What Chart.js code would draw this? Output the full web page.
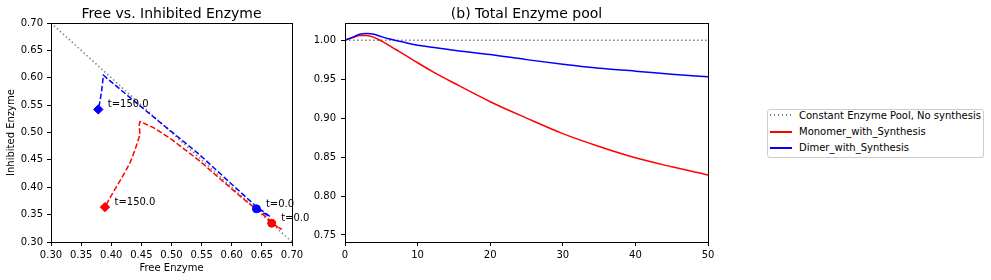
<!DOCTYPE html>
<html>
<head>
<meta charset="utf-8">
<script src="https://cdn.jsdelivr.net/npm/chart.js@4.4.1/dist/chart.umd.min.js"></script>
<style>
  html, body { margin: 0; padding: 0; background: #fff; }
  body { width: 991px; height: 280px; position: relative; overflow: hidden; font-family: "DejaVu Sans", sans-serif; }
  #phase { position: absolute; left: 0; top: 0; z-index: 2; }
  #pool { position: absolute; left: 300px; top: 0; z-index: 1; }
  #legend { position: absolute; left: 767px; top: 109px; width: 217px; height: 49px; box-sizing: border-box;
            border: 1px solid #ccc; border-radius: 3px; font-size: 10px; color: #000; }
  .txt { position: absolute; left: 31px; height: 12px; line-height: 12px; white-space: nowrap; }
  .hnd { position: absolute; left: 2px; width: 22px; height: 2px; }
</style>
</head>
<body>
<canvas id="phase" width="320" height="280"></canvas>
<canvas id="pool" width="420" height="280"></canvas>
<div id="legend"></div>
<script>
// (a) free vs inhibited enzyme, trajectories from t=0 to t=150
const diagFree = [0.30, 0.70];
const diagInhib = [0.70, 0.30];
const dimerFree  = [0.641, 0.652, 0.6635, 0.652, 0.641, 0.600, 0.5445, 0.500, 0.450, 0.410, 0.395, 0.387, 0.386, 0.384, 0.3815, 0.3785];
const dimerInhib = [0.3606, 0.3535, 0.3464, 0.356, 0.3645, 0.4055, 0.4615, 0.5015, 0.5465, 0.5833, 0.597, 0.6046, 0.595, 0.5758, 0.558, 0.5422];
const monoFree  = [0.6663, 0.675, 0.683, 0.675, 0.660, 0.620, 0.580, 0.5473, 0.500, 0.470, 0.4532, 0.450, 0.4475, 0.4465, 0.447, 0.4477, 0.440, 0.4311, 0.420, 0.409, 0.398, 0.3896];
const monoInhib = [0.3343, 0.3285, 0.3233, 0.328, 0.343, 0.378, 0.416, 0.4475, 0.4875, 0.509, 0.5175, 0.5205, 0.5195, 0.514, 0.505, 0.4963, 0.470, 0.4444, 0.422, 0.4015, 0.381, 0.3637];
const phaseTicks = [0.30, 0.35, 0.40, 0.45, 0.50, 0.55, 0.60, 0.65, 0.70];
const startLabel = 't=0.0';
const endLabel = 't=150.0';

// (b) total enzyme pool
const constTime = [0, 50];
const constPool = [1.0, 1.0];
const poolTime  = [0, 1, 2, 3, 4, 5, 6, 7, 8, 10, 12, 15, 20, 25, 30, 35, 40, 45, 50];
const poolMono  = [1.000, 1.003, 1.0058, 1.006, 1.0035, 0.999, 0.9937, 0.988, 0.9825, 0.971, 0.960, 0.945, 0.921, 0.900, 0.880, 0.8635, 0.849, 0.8375, 0.827];
const poolDimer = [1.000, 1.0035, 1.0075, 1.0085, 1.0075, 1.0045, 1.0018, 0.9995, 0.9975, 0.9935, 0.991, 0.987, 0.9815, 0.975, 0.969, 0.9638, 0.9602, 0.9562, 0.953];
const poolXTicks = [0, 10, 20, 30, 40, 50];
const poolYTicks = [0.75, 0.80, 0.85, 0.90, 0.95, 1.00];

const seriesNames  = ['Constant Enzyme Pool, No synthesis', 'Monomer_with_Synthesis', 'Dimer_with_Synthesis'];
const seriesColors = ['gray', 'red', 'blue'];

Chart.defaults.font.family = '"DejaVu Sans", sans-serif';
Chart.defaults.font.size = 10;
Chart.defaults.color = '#000';

const pts = (xs, ys) => xs.map((x, i) => ({ x: x, y: ys[i] }));

// linear axis in matplotlib look: outward ticks, fixed box size
const axis = (o) => ({
  type: 'linear', min: o.min, max: o.max,
  afterBuildTicks: s => { s.ticks = o.ticks.map(v => ({ value: v })); },
  afterFit: s => { if (o.width) s.width = o.width; if (o.height) s.height = o.height; },
  border: { display: false },
  grid: { drawOnChartArea: false, drawTicks: true, tickLength: 4, color: '#000', lineWidth: 1 },
  ticks: { color: '#000', padding: o.pad, autoSkip: false, maxRotation: 0, callback: v => v.toFixed(o.dp) },
  title: o.title ? { display: true, text: o.title, color: '#000', padding: o.titlePad } : { display: false }
});

// box round the plot area
const frame = {
  id: 'frame',
  afterDraw(chart) {
    const { ctx, chartArea: a } = chart;
    ctx.save();
    ctx.strokeStyle = '#000';
    ctx.lineWidth = 1;
    ctx.strokeRect(Math.round(a.left) + 0.5, Math.round(a.top) + 0.5, Math.round(a.right - a.left), Math.round(a.bottom - a.top));
    ctx.restore();
  }
};

// title centred over the plot area (not the canvas)
const panelTitle = (text) => ({
  id: 'panelTitle',
  afterDraw(chart) {
    const { ctx, chartArea: a } = chart;
    ctx.save();
    ctx.font = '14px "DejaVu Sans"';
    ctx.fillStyle = '#000';
    ctx.textAlign = 'center';
    ctx.textBaseline = 'alphabetic';
    ctx.fillText(text, (a.left + a.right) / 2, 17.7);
    ctx.restore();
  }
});

// t=... labels next to the start / end markers
const tLabels = {
  id: 'tLabels',
  afterDraw(chart) {
    const { ctx, scales: { x, y } } = chart;
    ctx.save();
    ctx.font = '10px "DejaVu Sans"';
    ctx.fillStyle = '#000';
    ctx.textAlign = 'left';
    ctx.textBaseline = 'alphabetic';
    [[dimerFree, dimerInhib], [monoFree, monoInhib]].forEach(([fx, fy]) => {
      const n = fx.length - 1;
      ctx.fillText(startLabel, x.getPixelForValue(fx[0]) + 9.5, y.getPixelForValue(fy[0]) - 2);
      ctx.fillText(endLabel, x.getPixelForValue(fx[n]) + 9.5, y.getPixelForValue(fy[n]) - 2);
    });
    ctx.restore();
  }
};

const dashed = (xs, ys, color, order) => ({
  data: pts(xs, ys), showLine: true, borderColor: color, borderWidth: 1.5,
  borderDash: [5.5, 2.4], pointRadius: 0, tension: 0, order: order
});
const endMarkers = (xs, ys, color) => ({
  data: [{ x: xs[0], y: ys[0] }, { x: xs[xs.length - 1], y: ys[ys.length - 1] }],
  showLine: false, pointStyle: ['circle', 'rectRot'], pointRadius: [4, 4.7],
  backgroundColor: color, borderColor: color, borderWidth: 1, order: 0
});

new Chart(document.getElementById('phase'), {
  type: 'scatter',
  data: {
    datasets: [
      { data: pts(diagFree, diagInhib), showLine: true, borderColor: 'gray', borderWidth: 1.5,
        borderDash: [1.5, 2.5], pointRadius: 0, order: 5 },
      dashed(dimerFree, dimerInhib, 'blue', 4),
      dashed(monoFree, monoInhib, 'red', 3),
      endMarkers(dimerFree, dimerInhib, 'blue'),
      endMarkers(monoFree, monoInhib, 'red')
    ]
  },
  options: {
    responsive: false, animation: false, devicePixelRatio: 1,
    layout: { padding: { top: 23, right: 28, left: 0, bottom: 0 } },
    plugins: { legend: { display: false }, tooltip: { enabled: false } },
    scales: {
      x: axis({ min: 0.30, max: 0.70, ticks: phaseTicks, dp: 2, pad: 3, height: 38,
                title: 'Free Enzyme', titlePad: { top: 0, bottom: 6 } }),
      y: axis({ min: 0.30, max: 0.70, ticks: phaseTicks, dp: 2, pad: 4, width: 51,
                title: 'Inhibited Enzyme', titlePad: { top: 5, bottom: 0 } })
    }
  },
  plugins: [frame, panelTitle('Free vs. Inhibited Enzyme'), tLabels]
});

const solid = (xs, ys, color, order) => ({
  label: seriesNames[seriesColors.indexOf(color)],
  data: pts(xs, ys), showLine: true, borderColor: color, borderWidth: 1.5,
  pointRadius: 0, cubicInterpolationMode: 'monotone', order: order
});

const poolChart = new Chart(document.getElementById('pool'), {
  type: 'scatter',
  data: {
    datasets: [
      { label: seriesNames[0], data: pts(constTime, constPool), showLine: true, borderColor: seriesColors[0],
        borderWidth: 1.5, borderDash: [1.5, 2.5], pointRadius: 0, order: 3 },
      solid(poolTime, poolMono, seriesColors[1], 2),
      solid(poolTime, poolDimer, seriesColors[2], 1)
    ]
  },
  options: {
    responsive: false, animation: false, devicePixelRatio: 1,
    layout: { padding: { top: 23, right: 12, left: 0, bottom: 0 } },
    plugins: { legend: { display: false }, tooltip: { enabled: false } },
    scales: {
      x: axis({ min: 0, max: 50, ticks: poolXTicks, dp: 0, pad: 3, height: 38 }),
      y: axis({ min: 0.741, max: 1.022, ticks: poolYTicks, dp: 2, pad: 5, width: 45 })
    }
  },
  plugins: [frame, panelTitle('(b) Total Enzyme pool')]
});

// legend box, built from the series names and colours
const textTops = [-0.5, 15.9, 32.3];
const handleTops = [4, 21, 37];
const legendBox = document.getElementById('legend');
seriesNames.forEach((name, i) => {
  const hnd = document.createElement('span');
  hnd.className = 'hnd';
  hnd.style.top = handleTops[i] + 'px';
  hnd.style.background = i === 0
    ? 'repeating-linear-gradient(to right, ' + seriesColors[i] + ' 0 1.5px, transparent 1.5px 4px)'
    : seriesColors[i];
  const txt = document.createElement('span');
  txt.className = 'txt';
  txt.style.top = textTops[i] + 'px';
  txt.textContent = name;
  legendBox.appendChild(hnd);
  legendBox.appendChild(txt);
});
</script>
</body>
</html>
